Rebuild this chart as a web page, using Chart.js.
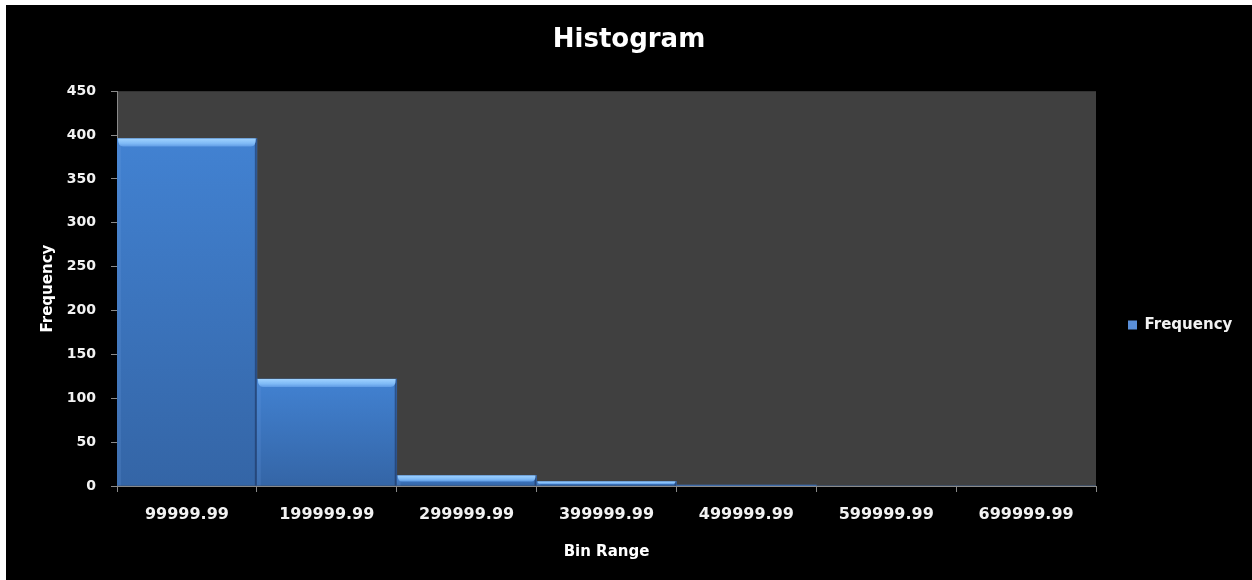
<!DOCTYPE html>
<html>
<head>
<meta charset="utf-8">
<script src="https://cdn.jsdelivr.net/npm/chart.js@4.4.1/dist/chart.umd.min.js"></script>
<style>
  html, body { margin: 0; padding: 0; background: #000000; overflow: hidden; }
  #edgeTop { position: absolute; left: 0; top: 0; width: 1300px; height: 5px; background: #ffffff; z-index: 2; }
  #edgeLeft { position: absolute; left: 0; top: 0; width: 6px; height: 640px; background: #ffffff; z-index: 2; }
  #wrap { position: absolute; left: 6px; top: 5px; width: 1300px; height: 640px; background: #000000; }
  canvas { display: block; }
</style>
</head>
<body>
<div id="edgeTop"></div>
<div id="edgeLeft"></div>
<div id="wrap"><canvas id="chart" width="1246" height="575"></canvas></div>
<script>
// Histogram data: bin upper bounds and counts per bin
const binRange = ['99999.99', '199999.99', '299999.99', '399999.99', '499999.99', '599999.99', '699999.99'];
const frequency = [396, 122, 12, 5, 1, 0, 0];
const seriesName = 'Frequency';
const yMin = 0, yMax = 450, yStep = 50;

const FONT = 'DejaVu Sans';
const AXIS_GRAY = '#8a8a8a';

// Paints the black chart background and the dark grey plot area
const backdrop = {
  id: 'backdrop',
  beforeDraw(chart) {
    const { ctx, chartArea: a } = chart;
    ctx.save();
    ctx.fillStyle = '#000000';
    ctx.fillRect(0, 0, chart.width, chart.height);
    ctx.fillStyle = '#404040';
    ctx.fillRect(a.left, a.top, a.right - a.left, a.bottom - a.top);
    ctx.restore();
  }
};

// Fixed-width legend column on the right, item centred a bit below mid-height
const legendBox = {
  id: 'legendBox',
  afterInit(chart) {
    const lg = chart.legend;
    const fit = lg.fit;
    lg.fit = function () { fit.call(this); this.width = 156; };
  },
  afterLayout(chart) {
    const lg = chart.legend;
    lg.top = 290;
    lg.bottom = 350;
  }
};

// Bevel look for the bars: bright rounded strip along the top edge and a dark seam on the right
const bevel = {
  id: 'bevel',
  afterDatasetsDraw(chart) {
    const { ctx } = chart;
    const meta = chart.getDatasetMeta(0);
    ctx.save();
    meta.data.forEach((el) => {
      const { x, y, base, width } = el.getProps(['x', 'y', 'base', 'width'], true);
      const h = base - y;
      if (h <= 0.5) return;
      const left = x - width / 2, right = x + width / 2;
      // right seam
      ctx.fillStyle = 'rgba(25, 45, 85, 0.55)';
      ctx.fillRect(right - 2, y, 2, h);
      // left soft edge
      ctx.fillStyle = 'rgba(110, 160, 230, 0.18)';
      ctx.fillRect(left, y, 4, h);
      // top highlight
      const hh = Math.min(8, h * 0.6);
      const inset = Math.min(5, hh * 0.7);
      const g = ctx.createLinearGradient(0, y, 0, y + hh);
      g.addColorStop(0, '#9fd2ff');
      g.addColorStop(0.6, '#7fbaf6');
      g.addColorStop(1, '#5f9be4');
      ctx.fillStyle = g;
      ctx.beginPath();
      ctx.moveTo(left + 1, y);
      ctx.lineTo(right - 1, y);
      ctx.quadraticCurveTo(right - 1, y + hh, right - 1 - inset, y + hh);
      ctx.lineTo(left + 1 + inset, y + hh);
      ctx.quadraticCurveTo(left + 1, y + hh, left + 1, y);
      ctx.closePath();
      ctx.fill();
    });
    ctx.restore();
  }
};

function barFill(context) {
  const chart = context.chart;
  const ys = chart.scales && chart.scales.y;
  if (!chart.chartArea || !ys || context.dataIndex === undefined) return '#3f7acb';
  const top = ys.getPixelForValue(context.raw);
  const bot = ys.getPixelForValue(0);
  if (bot - top < 1) return '#3f7acb';
  const g = chart.ctx.createLinearGradient(0, top, 0, bot);
  g.addColorStop(0, '#4282d2');
  g.addColorStop(1, '#3465a6');
  return g;
}

new Chart(document.getElementById('chart'), {
  type: 'bar',
  data: {
    labels: binRange,
    datasets: [{
      label: seriesName,
      data: frequency,
      backgroundColor: barFill,
      borderWidth: 0,
      barPercentage: 1.0,
      categoryPercentage: 1.0
    }]
  },
  options: {
    responsive: false,
    animation: false,
    devicePixelRatio: 1,
    layout: { padding: 0 },
    plugins: {
      title: {
        display: true,
        text: 'Histogram',
        color: '#ffffff',
        font: { family: FONT, size: 26, weight: 'bold' },
        padding: { top: 20, bottom: 35 }
      },
      legend: {
        position: 'right',
        align: 'center',
        labels: {
          padding: 32,
          boxWidth: 9,
          boxHeight: 9,
          color: '#f2f2f2',
          font: { family: FONT, size: 15, weight: 'bold' },
          generateLabels: () => [{
            text: seriesName,
            fillStyle: '#5a8fd8',
            strokeStyle: '#5a8fd8',
            lineWidth: 0,
            fontColor: '#f2f2f2',
            datasetIndex: 0
          }]
        }
      },
      tooltip: { enabled: false }
    },
    scales: {
      x: {
        grid: { display: true, drawOnChartArea: false, drawTicks: true, tickLength: 6, color: AXIS_GRAY, offset: true },
        border: { display: true, color: AXIS_GRAY, width: 1 },
        ticks: { color: '#f2f2f2', font: { family: FONT, size: 16, weight: 'bold' }, padding: 13, maxRotation: 0, autoSkip: false },
        title: {
          display: true, text: 'Bin Range', color: '#ffffff',
          font: { family: FONT, size: 15, weight: 'bold' }, padding: { top: 6, bottom: 19 }
        },
        afterFit(scale) { scale.height = 94; }
      },
      y: {
        min: yMin,
        max: yMax,
        grid: { display: true, drawOnChartArea: false, drawTicks: true, tickLength: 6, color: AXIS_GRAY },
        border: { display: true, color: AXIS_GRAY, width: 1 },
        ticks: { stepSize: yStep, color: '#f2f2f2', font: { family: FONT, size: 14, weight: 'bold' }, padding: 15 },
        title: {
          display: true, text: 'Frequency', color: '#ffffff',
          font: { family: FONT, size: 15, weight: 'bold' }, padding: { top: 33, bottom: 0 }
        },
        afterFit(scale) { scale.width = 111; }
      }
    }
  },
  plugins: [backdrop, legendBox, bevel]
});
</script>
</body>
</html>
